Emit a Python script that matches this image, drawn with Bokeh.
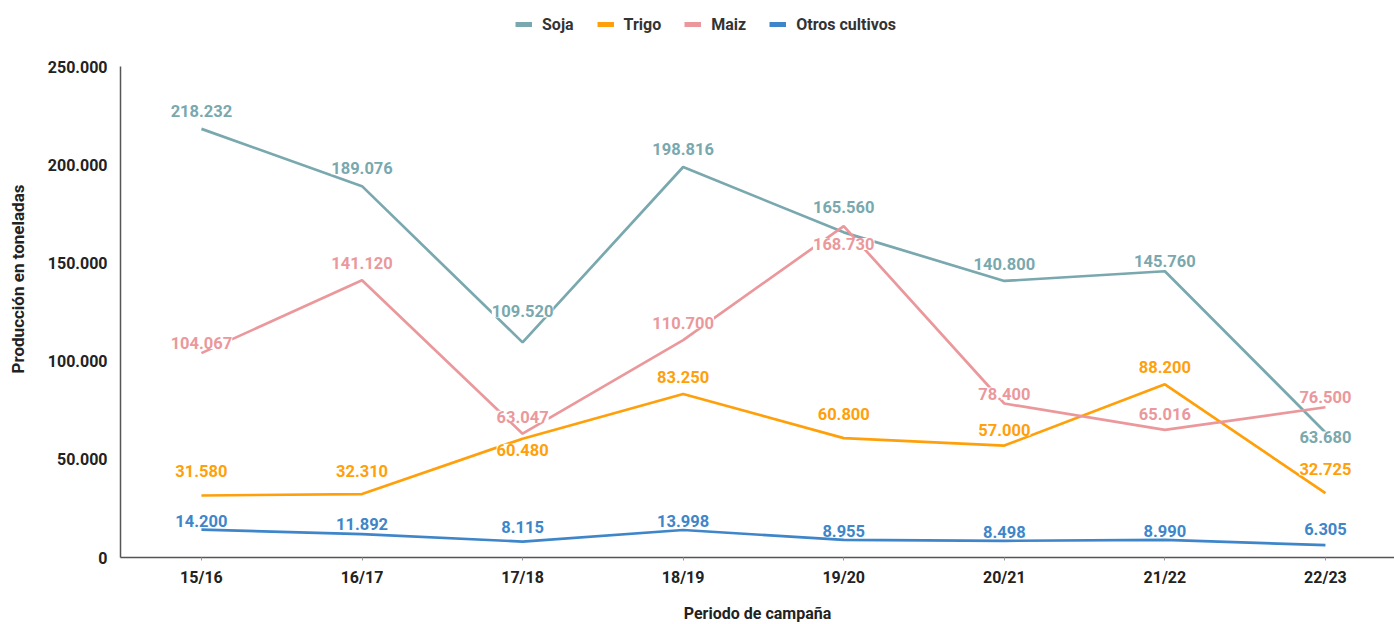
from bokeh.plotting import figure
from bokeh.models import ColumnDataSource, FixedTicker, Legend, LegendItem, Range1d
from bokeh.core.properties import value
from bokeh.embed import file_html
from bokeh.resources import INLINE

campaigns = ["15/16", "16/17", "17/18", "18/19", "19/20", "20/21", "21/22", "22/23"]
soja = [218232, 189076, 109520, 198816, 165560, 140800, 145760, 63680]
trigo = [31580, 32310, 60480, 83250, 60800, 57000, 88200, 32725]
maiz = [104067, 141120, 63047, 110700, 168730, 78400, 65016, 76500]
otros = [14200, 11892, 8115, 13998, 8955, 8498, 8990, 6305]
y_ticks = [0, 50000, 100000, 150000, 200000, 250000]

series = [
    ("Soja", soja, "#79a8ae", [-18, -18, -31, -18, -25, -17, -10, 5]),
    ("Trigo", trigo, "#ffa00a", [-24, -23, 11, -17, -24, -16, -17, -24]),
    ("Maiz", maiz, "#eb989c", [-10, -17, -17, -17, 18, -10, -16, -10]),
    ("Otros cultivos", otros, "#3e86c9", [-9, -10, -15, -9, -9, -9, -9, -16]),
]

FONT = "Roboto"

def fmt(v):
    return f"{v:,}".replace(",", ".")

FRAME_H = 557
FRAME_W = 1274
# 250000 sits 491px above the frame bottom
Y_TOP = 250000 * FRAME_H / 491

p = figure(frame_width=FRAME_W, frame_height=FRAME_H, output_backend="svg", toolbar_location=None,
           x_range=Range1d(-0.504, 7.43), y_range=Range1d(0, Y_TOP),
           min_border_left=120, min_border_right=0, min_border_top=0, min_border_bottom=0)
p.outline_line_color = None
p.xgrid.visible = False
p.ygrid.visible = False
p.background_fill_color = "white"

xs = list(range(len(campaigns)))
for name, vals, color, _ in series:
    p.line(xs, vals, line_color=color, line_width=2.7)

for name, vals, color, dys in series:
    src = ColumnDataSource(dict(x=xs, y=vals, t=[fmt(v) for v in vals], dy=dys))
    p.text(x="x", y="y", text="t", y_offset="dy", source=src,
           text_color=color, text_font=value(FONT), text_font_style="bold",
           text_font_size="16.5px", text_align="center", text_baseline="middle",
           background_fill_color="white")

legend_items = []
for name, vals, color, _ in series:
    d = p.line([0, 0], [0, 0], line_color=color, line_width=5)
    d.visible = False
    legend_items.append(LegendItem(label=name, renderers=[d]))

legend = Legend(items=legend_items, orientation="horizontal", location=(395, 523),
                glyph_width=17, glyph_height=20, label_standoff=10, spacing=23,
                label_text_font=FONT, label_text_font_style="bold",
                label_text_font_size="16px", label_text_color="#333333",
                border_line_color=None, background_fill_alpha=0,
                margin=0, padding=0, inactive_fill_alpha=0)
p.add_layout(legend, "center")

p.xaxis.ticker = FixedTicker(ticks=xs)
p.xaxis.major_label_overrides = {i: c for i, c in enumerate(campaigns)}
p.yaxis.ticker = FixedTicker(ticks=y_ticks)
p.yaxis.major_label_overrides = {t: fmt(t) for t in y_ticks}
p.yaxis.bounds = (0, 250000)
p.xaxis.minor_tick_line_color = None
p.yaxis.minor_tick_line_color = None
p.yaxis.major_tick_line_color = None
p.xaxis.major_tick_line_color = "#999999"
p.xaxis.major_tick_in = 0
p.xaxis.major_tick_out = 3
for ax in (p.xaxis, p.yaxis):
    ax.axis_line_color = "#555555"
    ax.axis_line_width = 1.5
    ax.major_label_text_font = FONT
    ax.major_label_text_font_style = "bold"
    ax.major_label_text_font_size = "16px"
    ax.major_label_text_color = "#222222"
    ax.axis_label_text_font = FONT
    ax.axis_label_text_font_style = "bold"
    ax.axis_label_text_color = "#222222"
p.xaxis.axis_label_text_font_size = "16px"
p.yaxis.axis_label_text_font_size = "17px"
p.yaxis.major_label_standoff = 7
p.xaxis.major_label_standoff = 7
p.xaxis.axis_label = "Periodo de campaña"
p.yaxis.axis_label = "Producción en toneladas"
p.xaxis.axis_label_standoff = 14
p.yaxis.axis_label_standoff = 17

open("out.html", "w").write(file_html(p, INLINE))
